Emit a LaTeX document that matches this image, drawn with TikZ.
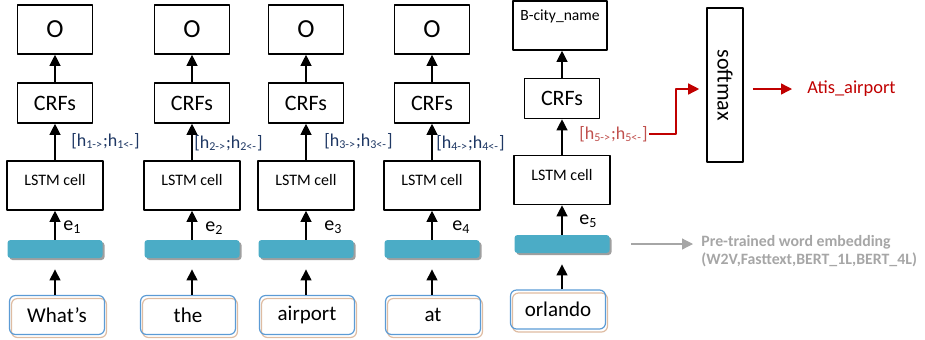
\documentclass[tikz,border=0pt]{standalone}
\usepackage{fontspec}
\setmainfont{Carlito}
\usepackage{graphicx}
\usetikzlibrary{arrows.meta}
\definecolor{hblue}{RGB}{31,56,100}
\definecolor{barc}{RGB}{75,172,198}
\definecolor{dred}{RGB}{192,0,0}
\definecolor{hred}{RGB}{192,80,77}
\definecolor{wblue}{RGB}{91,155,213}
\definecolor{wtan}{RGB}{222,188,162}
\definecolor{lgray}{RGB}{166,166,166}
\newcommand{\hvec}[1]{[h\textsubscript{#1->};h\textsubscript{#1<-}]}
\begin{document}
\begin{tikzpicture}[x=0.5pt, y=-0.5pt, line join=round, >={Triangle[length=5.5pt,width=5.5pt]},
 box/.style={draw, line width=0.8pt, minimum width=37.5pt, inner sep=0pt, font=\fontsize{11}{13}\selectfont},
 obox/.style={box, minimum height=24.5pt, font=\fontsize{13}{15}\selectfont},
 crf/.style={box, minimum height=20pt},
 lstm/.style={box, minimum width=48pt, minimum height=24.5pt,
   label={[font=\fontsize{8}{10}\selectfont, yshift=2.75pt]center:LSTM cell}},
 emb/.style={fill=barc, rounded corners=1.5pt, minimum width=47.5pt, minimum height=9pt, inner sep=0pt,
   preaction={fill=gray!75, transform canvas={shift={(1pt,-1pt)}}}},
 word/.style={draw=wblue, line width=0.6pt, rounded corners=3pt, minimum width=47.5pt, minimum height=19.5pt,
   font=\fontsize{10.5}{12}\selectfont,
   preaction={draw=wtan, line width=0.6pt, transform canvas={shift={(1pt,-1.5pt)}}}},
 hlab/.style={anchor=west, inner sep=0.5pt, text=hblue, font=\fontsize{9}{11}\selectfont},
 elab/.style={anchor=west, inner sep=0.5pt, font=\fontsize{10}{12}\selectfont},
 arr/.style={->, line width=0.6pt},
 redarr/.style={->, draw=dred, line width=0.7pt},
 grayarr/.style={->, draw=lgray, line width=0.6pt}]
 \useasboundingbox (0,0) rectangle (925,339);
 % column 1
 \node[obox] (o1) at (55,29.5) {O};
 \node[crf] (c1) at (55,103) {CRFs};
 \node[lstm] (l1) at (55,185.5) {};
 \node[emb] (b1) at (55,249) {};
 \node[word] (w1) at (57,315) {What’s};
 % column 2
 \node[obox] (o2) at (192,29.5) {O};
 \node[crf] (c2) at (192,103) {CRFs};
 \node[lstm] (l2) at (192,185.5) {};
 \node[emb] (b2) at (192,249) {};
 \node[word] (w2) at (188,315) {the};
 % column 3
 \node[obox] (o3) at (306,29.5) {O};
 \node[crf] (c3) at (306,103) {CRFs};
 \node[lstm] (l3) at (306,185.5) {};
 \node[emb] (b3) at (306,249) {};
 \node[word] (w3) at (307,315) {airport};
 % column 4
 \node[obox] (o4) at (432,29.5) {O};
 \node[crf] (c4) at (432,103) {CRFs};
 \node[lstm] (l4) at (432,185.5) {};
 \node[emb] (b4) at (432,249) {};
 \node[word] (w4) at (433,315) {at};
 % column 5
 \node[obox, minimum width=47pt, label={[font=\fontsize{7.8}{9}\selectfont, anchor=north, yshift=-1pt]north:B-city\_name}] (o5) at (560,25.5) {};
 \node[crf] (c5) at (562,98.5) {CRFs};
 \node[lstm] (l5) at (562,180) {};
 \node[emb] (b5) at (562,244) {};
 \node[word] (w5) at (558,309.5) {orlando};
 % softmax and outputs
 \node[box, minimum width=18pt, minimum height=77pt] (sm) at (725,85) {\rotatebox{-90}{softmax}};
 \node[anchor=west, inner sep=0.5pt, text=dred, font=\fontsize{9.2}{11}\selectfont] (atis) at (806,89) {Atis\_airport};
 \node[anchor=west, inner sep=0.5pt, align=left, text=lgray, font=\fontsize{7.9}{9}\selectfont\bfseries] (pre) at (700,251)
   {Pre-trained word embedding\\(W2V,Fasttext,BERT\_1L,BERT\_4L)};
 % labels
 \path
 (70,141) node[hlab] (h1) {\hvec{1}}
 (193,143) node[hlab] (h2) {\hvec{2}}
 (323,141) node[hlab] (h3) {\hvec{3}}
 (435,143) node[hlab] (h4) {\hvec{4}}
 (578,134) node[hlab, text=hred] (h5) {\hvec{5}};
 \path
 (62,227) node[elab] (e1) {e\textsubscript{1}}
 (204,228) node[elab] (e2) {e\textsubscript{2}}
 (323,227) node[elab] (e3) {e\textsubscript{3}}
 (451,227) node[elab] (e4) {e\textsubscript{4}}
 (578,221) node[elab] (e5) {e\textsubscript{5}};
 % arrows
 \draw[arr] (c1) -- (o1); \draw[arr] (l1) -- (c1); \draw[arr] (b1) -- (l1);
 \draw[arr, shorten >=5.5pt] (b1.south |- w1.north) -- (b1.south);
 \draw[arr] (c2) -- (o2); \draw[arr] (l2) -- (c2); \draw[arr] (b2) -- (l2);
 \draw[arr, shorten >=5.5pt] (b2.south |- w2.north) -- (b2.south);
 \draw[arr] (c3) -- (o3); \draw[arr] (l3) -- (c3); \draw[arr] (b3) -- (l3);
 \draw[arr, shorten >=5.5pt] (b3.south |- w3.north) -- (b3.south);
 \draw[arr] (c4) -- (o4); \draw[arr] (l4) -- (c4); \draw[arr] (b4) -- (l4);
 \draw[arr, shorten >=5.5pt] (b4.south |- w4.north) -- (b4.south);
 \draw[arr] (c5) -- (c5 |- o5.south); \draw[arr] (l5) -- (c5); \draw[arr] (b5) -- (l5);
 \draw[arr, shorten >=5.5pt] (b5.south |- w5.north) -- (b5.south);
 \draw[redarr, shorten >=3.5pt] (h5.east) -- ++(27,0) |- (sm.west |- atis.west);
 \draw[redarr, shorten <=4.5pt, shorten >=7pt] (sm.east |- atis.west) -- (atis.west);
 \draw[grayarr, shorten <=10.5pt, shorten >=3.5pt] (b5.east) -- (b5.east -| pre.west);
\end{tikzpicture}
\end{document}
